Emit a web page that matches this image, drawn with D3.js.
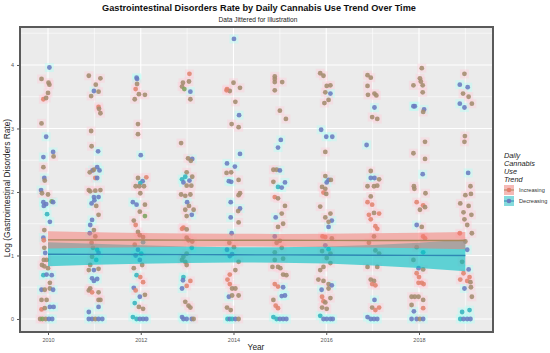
<!DOCTYPE html>
<html><head><meta charset="utf-8">
<script src="https://cdn.jsdelivr.net/npm/d3@7"></script>
<style>body{margin:0;background:#fff}svg{display:block}text{font-family:"Liberation Sans",Arial,sans-serif}</style>
</head><body>
<svg id="c" width="550" height="353"></svg>
<script>
const years = [2010,2011,2012,2013,2014,2015,2016,2017,2018,2019];
const xTickLabels = ["2010","2012","2014","2016","2018"];
const yTicks = [0,1,2,3,4];
const legendLabels = ["Increasing","Decreasing"];
// jittered points: [offset from year, log rate, colour code]
const pts2010 = [[0.03,3.96,"p"],[-0.14,3.78,"b"],[0.01,3.72,"b"],[0.03,3.69,"b"],[0.0,3.56,"b"],[-0.10,3.46,"s"],[-0.04,3.48,"b"],[-0.14,3.08,"b"],[-0.04,2.87,"p"],[-0.10,2.55,"p"],[0.11,2.63,"p"],[0.12,2.56,"b"],[-0.10,2.39,"b"],[-0.08,2.22,"p"],[-0.07,2.18,"b"],[-0.15,2.03,"p"],[-0.13,1.98,"b"],[0.0,1.96,"b"],[-0.09,1.78,"p"],[-0.04,1.81,"p"],[-0.10,1.84,"p"],[0.08,1.85,"g"],[0.11,1.84,"p"],[-0.02,1.65,"t"],[0.04,1.53,"p"],[-0.08,1.40,"b"],[-0.10,1.28,"p"],[-0.09,1.24,"s"],[-0.08,1.12,"b"],[-0.06,1.04,"p"],[-0.09,0.93,"b"],[-0.03,0.93,"b"],[-0.13,0.85,"b"],[-0.08,0.83,"b"],[0.0,0.80,"b"],[-0.10,0.69,"t"],[-0.03,0.70,"p"],[0.08,0.69,"p"],[0.04,0.57,"b"],[-0.14,0.46,"p"],[-0.07,0.46,"b"],[0.04,0.48,"b"],[0.11,0.46,"p"],[-0.14,0.30,"b"],[-0.03,0.30,"b"],[-0.14,0.15,"s"],[-0.07,0.17,"b"],[0.04,0.19,"p"],[0.12,0.19,"p"],[-0.17,0,"b"],[-0.12,0,"g"],[-0.05,0,"b"],[0.02,0,"p"],[0.09,0,"p"]];
const pts2011 = [[-0.12,3.83,"b"],[0.13,3.79,"b"],[0.03,3.69,"b"],[-0.01,3.59,"p"],[0.09,3.58,"b"],[-0.07,3.51,"b"],[0.09,3.34,"s"],[0.10,3.31,"b"],[0.13,3.24,"b"],[-0.07,2.96,"b"],[-0.06,2.72,"b"],[0.08,2.64,"p"],[0.06,2.39,"p"],[-0.04,2.34,"p"],[-0.01,2.35,"b"],[0.11,2.34,"p"],[-0.10,2.31,"b"],[0.02,2.22,"s"],[0.06,2.22,"p"],[-0.12,2.03,"b"],[-0.09,2.01,"b"],[0.02,2.02,"b"],[0.13,2.03,"b"],[-0.01,1.92,"p"],[0.09,1.92,"p"],[0.0,1.87,"p"],[-0.06,1.82,"p"],[0.04,1.78,"b"],[0.09,1.64,"b"],[-0.05,1.56,"p"],[-0.09,1.48,"p"],[-0.01,1.40,"b"],[-0.10,1.35,"p"],[0.02,1.30,"b"],[-0.06,1.20,"b"],[-0.03,1.12,"b"],[0.06,1.09,"t"],[0.09,1.04,"p"],[-0.05,0.98,"b"],[0.04,0.93,"t"],[-0.09,0.85,"b"],[-0.12,0.77,"b"],[-0.01,0.77,"p"],[0.09,0.79,"b"],[-0.05,0.64,"p"],[0.06,0.63,"p"],[-0.01,0.60,"p"],[-0.09,0.48,"b"],[-0.12,0.45,"b"],[-0.05,0.42,"s"],[0.09,0.42,"b"],[0.09,0.30,"b"],[0.13,0.30,"b"],[0.09,0.19,"p"],[-0.12,0.11,"p"],[-0.12,0,"p"],[-0.05,0,"p"],[0.02,0,"b"],[0.09,0,"p"],[0.17,0,"p"]];
const pts2012 = [[-0.09,3.80,"p"],[-0.08,3.78,"p"],[-0.08,3.70,"b"],[-0.11,3.62,"s"],[-0.04,3.54,"b"],[0.09,3.53,"b"],[-0.13,3.46,"b"],[-0.06,3.07,"b"],[-0.06,2.91,"b"],[0.0,2.58,"p"],[0.12,2.23,"s"],[0.04,2.17,"p"],[-0.06,2.22,"b"],[-0.01,2.14,"t"],[-0.11,2.09,"b"],[-0.03,2.09,"b"],[0.07,2.09,"b"],[-0.01,1.98,"b"],[-0.17,1.84,"p"],[-0.09,1.80,"p"],[0.09,1.80,"b"],[-0.02,1.69,"b"],[0.09,1.62,"g"],[-0.15,1.55,"b"],[-0.11,1.48,"s"],[-0.06,1.37,"b"],[0.05,1.29,"b"],[-0.02,1.32,"b"],[0.05,1.21,"t"],[-0.13,1.17,"b"],[-0.06,1.09,"p"],[0.01,1.03,"t"],[-0.11,1.0,"p"],[-0.02,0.93,"p"],[0.03,0.85,"b"],[-0.15,0.80,"b"],[-0.09,0.69,"t"],[-0.01,0.66,"s"],[0.05,0.58,"s"],[-0.15,0.49,"p"],[-0.11,0.45,"s"],[-0.02,0.35,"p"],[0.09,0.38,"b"],[-0.13,0.25,"t"],[-0.04,0.19,"b"],[0.05,0.16,"b"],[-0.17,0.03,"t"],[-0.09,0,"t"],[-0.02,0,"p"],[0.05,0,"p"],[0.12,0,"p"]];
const pts2013 = [[0.05,3.86,"s"],[0.04,3.74,"b"],[-0.09,3.72,"b"],[-0.11,3.66,"b"],[-0.06,3.62,"g"],[0.07,3.58,"p"],[0.07,3.46,"b"],[-0.13,2.77,"b"],[0.02,2.53,"b"],[0.11,2.52,"p"],[0.08,2.49,"b"],[-0.01,2.31,"b"],[-0.04,2.24,"t"],[0.11,2.24,"b"],[-0.11,2.20,"t"],[-0.08,2.15,"p"],[0.05,2.18,"p"],[-0.01,2.10,"b"],[0.09,2.10,"b"],[-0.13,1.96,"b"],[-0.04,1.94,"b"],[0.07,1.96,"b"],[0.0,1.84,"p"],[0.04,1.78,"b"],[-0.04,1.72,"b"],[0.14,1.72,"b"],[0.10,1.64,"p"],[-0.01,1.62,"b"],[-0.08,1.44,"s"],[-0.11,1.42,"s"],[-0.01,1.41,"b"],[-0.01,1.28,"b"],[0.03,1.24,"b"],[0.11,1.22,"b"],[0.10,1.12,"t"],[-0.01,1.03,"b"],[-0.08,0.98,"b"],[-0.11,0.93,"b"],[-0.04,0.90,"b"],[-0.01,0.85,"b"],[-0.08,0.66,"t"],[-0.09,0.61,"p"],[0.07,0.60,"s"],[-0.01,0.52,"s"],[-0.11,0.48,"p"],[-0.04,0.27,"b"],[0.03,0.21,"b"],[0.07,0.18,"b"],[-0.11,0.03,"p"],[-0.01,0,"p"],[0.10,0,"p"],[-0.08,0,"p"],[0.14,0,"b"]];
const pts2014 = [[0.01,4.41,"p"],[0.0,3.72,"b"],[-0.14,3.62,"s"],[-0.08,3.59,"b"],[-0.15,3.60,"s"],[0.14,3.64,"b"],[0.04,3.42,"b"],[0.12,3.21,"p"],[-0.04,3.07,"b"],[0.11,3.02,"b"],[0.14,2.60,"p"],[-0.14,2.45,"p"],[0.03,2.40,"p"],[-0.05,2.31,"b"],[-0.15,2.30,"b"],[-0.10,2.17,"p"],[-0.05,2.16,"p"],[0.11,2.19,"b"],[0.14,1.98,"b"],[0.11,1.95,"b"],[-0.06,1.84,"p"],[0.14,1.74,"p"],[0.10,1.70,"b"],[-0.06,1.60,"p"],[0.11,1.52,"b"],[-0.04,1.35,"p"],[-0.09,1.20,"b"],[0.01,1.13,"b"],[-0.14,1.09,"p"],[-0.03,1.02,"p"],[-0.08,0.99,"p"],[0.11,0.90,"b"],[0.04,0.77,"b"],[-0.08,0.70,"s"],[-0.13,0.62,"s"],[-0.08,0.55,"s"],[-0.03,0.48,"b"],[0.04,0.48,"b"],[-0.10,0.35,"p"],[-0.03,0.37,"b"],[0.11,0.37,"b"],[-0.14,0.18,"b"],[-0.06,0.14,"b"],[-0.13,0,"t"],[-0.08,0,"p"],[-0.03,0,"t"],[0.04,0,"p"],[0.11,0,"b"]];
const pts2015 = [[-0.11,3.82,"b"],[-0.11,3.78,"b"],[-0.11,3.73,"b"],[0.05,3.73,"b"],[-0.11,3.60,"b"],[0.0,3.28,"b"],[0.13,3.15,"b"],[0.02,2.82,"p"],[-0.04,2.70,"p"],[-0.14,2.35,"b"],[-0.07,2.35,"b"],[0.0,2.34,"p"],[-0.14,2.16,"b"],[0.11,2.15,"p"],[-0.04,2.08,"t"],[0.04,2.07,"p"],[-0.11,1.92,"s"],[-0.04,1.90,"b"],[0.11,1.78,"b"],[0.04,1.66,"b"],[-0.09,1.60,"p"],[0.07,1.50,"b"],[-0.04,1.45,"b"],[-0.11,1.30,"p"],[0.0,1.23,"b"],[-0.07,1.20,"b"],[0.04,1.12,"b"],[-0.11,1.05,"b"],[0.07,0.95,"b"],[-0.11,0.93,"b"],[-0.16,0.82,"b"],[-0.04,0.82,"b"],[0.01,0.80,"b"],[0.07,0.70,"b"],[0.14,0.69,"b"],[-0.11,0.55,"s"],[-0.04,0.51,"s"],[0.07,0.50,"p"],[0.04,0.36,"p"],[0.11,0.37,"p"],[-0.14,0.30,"b"],[-0.09,0.21,"s"],[-0.04,0.17,"s"],[-0.14,0.03,"t"],[-0.07,0,"t"],[0.0,0,"p"],[0.07,0,"p"],[0.14,0,"p"]];
const pts2016 = [[-0.13,3.87,"b"],[-0.06,3.83,"b"],[0.09,3.68,"b"],[0.01,3.67,"b"],[-0.02,3.57,"b"],[0.09,3.55,"p"],[0.05,3.45,"b"],[-0.04,3.40,"b"],[-0.11,2.98,"p"],[0.0,2.87,"p"],[0.13,2.87,"p"],[-0.02,2.63,"b"],[-0.02,2.25,"b"],[0.05,2.19,"p"],[0.10,2.19,"b"],[0.01,2.15,"p"],[-0.09,2.08,"b"],[-0.02,2.05,"b"],[-0.06,1.99,"s"],[0.0,1.97,"b"],[-0.13,1.77,"b"],[0.09,1.66,"b"],[-0.02,1.60,"b"],[0.12,1.55,"p"],[0.05,1.53,"b"],[0.05,1.45,"p"],[-0.08,1.30,"s"],[-0.02,1.29,"s"],[0.12,1.27,"b"],[-0.02,1.16,"p"],[0.05,1.10,"t"],[-0.09,1.07,"b"],[0.09,1.03,"b"],[0.01,0.96,"b"],[0.09,0.88,"b"],[-0.06,0.82,"b"],[-0.13,0.77,"b"],[-0.17,0.62,"b"],[-0.06,0.60,"b"],[0.05,0.55,"b"],[0.12,0.53,"p"],[-0.10,0.46,"p"],[0.05,0.48,"b"],[-0.09,0.35,"s"],[-0.06,0.28,"s"],[-0.02,0.26,"b"],[0.09,0.33,"b"],[-0.09,0.18,"b"],[0.01,0.16,"b"],[-0.13,0.05,"t"],[-0.06,0,"p"],[0.01,0,"p"],[0.09,0,"p"],[0.14,0,"p"]];
const pts2017 = [[-0.11,3.84,"b"],[-0.04,3.80,"b"],[-0.11,3.67,"b"],[-0.10,3.53,"b"],[0.04,3.55,"b"],[0.08,3.52,"b"],[0.04,3.33,"p"],[-0.01,3.18,"b"],[0.10,3.15,"b"],[-0.13,2.74,"p"],[-0.04,2.33,"b"],[-0.04,2.22,"p"],[0.04,2.22,"p"],[0.14,2.20,"b"],[-0.11,2.09,"b"],[0.03,2.09,"b"],[0.10,2.10,"b"],[-0.04,1.93,"b"],[-0.11,1.84,"s"],[-0.01,1.80,"s"],[0.03,1.67,"b"],[-0.08,1.64,"s"],[0.14,1.66,"s"],[-0.04,1.57,"s"],[0.06,1.46,"s"],[0.10,1.42,"s"],[0.03,1.30,"b"],[-0.08,1.20,"b"],[0.06,1.08,"b"],[0.14,1.03,"b"],[-0.11,0.82,"b"],[0.10,0.82,"b"],[-0.04,0.62,"b"],[0.03,0.60,"b"],[-0.01,0.55,"s"],[0.06,0.53,"s"],[0.04,0.30,"p"],[-0.01,0.18,"b"],[0.14,0.18,"s"],[0.06,0.14,"s"],[-0.11,0.03,"p"],[-0.04,0,"p"],[0.03,0,"p"],[0.10,0,"p"]];
const pts2018 = [[0.06,3.95,"b"],[0.02,3.79,"b"],[0.04,3.74,"b"],[-0.12,3.68,"b"],[0.08,3.68,"b"],[0.08,3.57,"b"],[-0.09,3.35,"p"],[-0.12,3.35,"p"],[0.11,3.30,"p"],[0.09,3.26,"b"],[0.13,2.79,"b"],[-0.12,2.61,"b"],[0.13,2.52,"b"],[0.08,2.28,"p"],[-0.11,2.09,"b"],[-0.10,2.05,"b"],[0.14,1.98,"b"],[-0.05,1.84,"s"],[0.09,1.79,"s"],[0.02,1.72,"b"],[0.13,1.76,"b"],[-0.05,1.48,"p"],[0.06,1.45,"b"],[0.09,1.30,"s"],[0.13,1.27,"s"],[-0.05,1.13,"b"],[0.09,1.05,"t"],[-0.12,0.93,"b"],[-0.01,0.80,"p"],[0.09,0.78,"b"],[-0.05,0.72,"s"],[0.0,0.66,"s"],[0.06,0.57,"s"],[-0.01,0.57,"s"],[0.10,0.55,"s"],[-0.16,0.35,"b"],[-0.09,0.35,"b"],[-0.01,0.35,"b"],[0.09,0.30,"b"],[-0.16,0.22,"b"],[0.09,0.17,"s"],[-0.11,0.12,"p"],[-0.16,0,"p"],[-0.05,0,"p"],[0.02,0,"b"],[0.09,0,"p"]];
const pts2019 = [[-0.02,3.86,"b"],[-0.12,3.69,"p"],[0.05,3.65,"p"],[-0.05,3.55,"b"],[0.07,3.50,"b"],[-0.12,3.39,"p"],[-0.02,3.33,"p"],[0.14,3.39,"b"],[-0.01,2.88,"b"],[-0.02,2.79,"b"],[0.06,2.30,"p"],[0.11,2.09,"b"],[0.0,1.95,"b"],[0.12,1.97,"b"],[-0.11,1.82,"b"],[0.07,1.78,"b"],[-0.04,1.68,"b"],[0.13,1.64,"b"],[-0.02,1.57,"b"],[0.04,1.48,"b"],[-0.12,1.35,"s"],[0.14,1.35,"b"],[0.0,1.22,"b"],[0.04,1.09,"p"],[-0.07,0.90,"b"],[0.07,0.78,"p"],[-0.04,0.72,"s"],[0.09,0.66,"s"],[-0.11,0.62,"s"],[0.04,0.60,"s"],[0.11,0.58,"b"],[-0.02,0.48,"p"],[0.12,0.50,"b"],[0.14,0.35,"b"],[0.09,0.14,"t"],[-0.07,0.11,"t"],[-0.11,0,"t"],[-0.04,0,"p"],[0.04,0,"p"],[0.11,0,"p"]];
const pointsByYear = [pts2010,pts2011,pts2012,pts2013,pts2014,pts2015,pts2016,pts2017,pts2018,pts2019];
// linear trend fits with confidence bands, per year
const incFit = [1.245,1.244,1.243,1.242,1.241,1.239,1.238,1.237,1.236,1.235];
const incLo  = [1.11,1.122,1.131,1.138,1.14,1.139,1.134,1.125,1.114,1.10];
const incHi  = [1.38,1.366,1.355,1.346,1.342,1.34,1.342,1.349,1.358,1.37];
const decFit = [1.020,1.018,1.016,1.013,1.011,1.009,1.007,1.004,1.002,1.000];
const decLo  = [0.83,0.853,0.871,0.883,0.891,0.887,0.872,0.844,0.802,0.75];
const decHi  = [1.21,1.183,1.161,1.143,1.131,1.131,1.142,1.164,1.202,1.25];

const svg = d3.select("#c");
const P = {l:20, t:27, r:493, b:332};
const x = d3.scaleLinear().domain([2009.396, 2019.596]).range([P.l, P.r]);
const y = d3.scaleLinear().domain([-0.205, 4.598]).range([P.b, P.t]);
const colorOf = {b:"#A38C6E", p:"#6B7CC0", s:"#E0846F", t:"#35B4BE", g:"#7CA35E"};
const isInc = c => c==="b"||c==="s"||c==="g";

// panel
svg.append("rect").attr("x",P.l).attr("y",P.t).attr("width",P.r-P.l).attr("height",P.b-P.t).attr("fill","#EBEBEB");
const grid = svg.append("g");
d3.range(0, 4.6, 0.5).forEach(v=>{
  grid.append("line").attr("x1",P.l).attr("x2",P.r).attr("y1",y(v)).attr("y2",y(v))
    .attr("stroke","#fff").attr("stroke-width", v%1===0?1.1:0.6);
});
years.forEach(yr=>{
  grid.append("line").attr("y1",P.t).attr("y2",P.b).attr("x1",x(yr)).attr("x2",x(yr))
    .attr("stroke","#fff").attr("stroke-width", yr%2===0?1.1:0.6);
});

// flattened points
const pts = [];
pointsByYear.forEach((arr,i)=>arr.forEach(d=>pts.push({x:years[i]+d[0], v:d[1], c:d[2]})));

// halos
svg.append("g").selectAll("rect").data(pts).join("rect")
  .attr("x",d=>x(d.x)-4.5).attr("y",d=>y(d.v)-4.5).attr("width",9).attr("height",9)
  .attr("fill",d=>isInc(d.c)?"#FFCCDA":"#B0FFF6").attr("opacity",0.42);
// points
svg.append("g").selectAll("circle").data(pts).join("circle")
  .attr("cx",d=>x(d.x)).attr("cy",d=>y(d.v)).attr("r",2.4)
  .attr("fill",d=>colorOf[d.c]).attr("opacity",0.88);

// ribbons
const area = (lo,hi)=>d3.area().x((d,i)=>x(years[i])).y0((d,i)=>y(lo[i])).y1((d,i)=>y(hi[i]))(years);
svg.append("path").attr("d",area(decLo,decHi)).attr("fill","#00BFC4").attr("opacity",0.6);
svg.append("path").attr("d",area(incLo,incHi)).attr("fill","#F8766D").attr("opacity",0.5);
const line = f=>d3.line().x((d,i)=>x(years[i])).y((d,i)=>y(f[i]))(years);
svg.append("path").attr("d",line(incFit)).attr("fill","none").attr("stroke","#A8875C").attr("stroke-width",1.4);
svg.append("path").attr("d",line(decFit)).attr("fill","none").attr("stroke","#2F88B4").attr("stroke-width",1.4);

// frame
svg.append("rect").attr("x",P.l).attr("y",P.t).attr("width",P.r-P.l).attr("height",P.b-P.t)
  .attr("fill","none").attr("stroke","#5A5A5A").attr("stroke-width",2);

// axes
const yAxis = d3.axisLeft(y).tickValues(yTicks).tickSize(2).tickPadding(3).tickFormat(d3.format("d"));
const gy = svg.append("g").attr("transform",`translate(${P.l-1},0)`).call(yAxis);
gy.select(".domain").remove();
gy.selectAll("line").attr("stroke","#555");
gy.selectAll("text").attr("font-size",5.5).attr("fill","#555");
const xAxis = d3.axisBottom(x).tickValues(xTickLabels.map(Number)).tickSize(2).tickPadding(3).tickFormat(d3.format("d"));
const gx = svg.append("g").attr("transform",`translate(0,${P.b+1})`).call(xAxis);
gx.select(".domain").remove();
gx.selectAll("line").attr("stroke","#555");
gx.selectAll("text").attr("font-size",5.5).attr("fill","#555");

// titles
svg.append("text").attr("x",259).attr("y",11).attr("text-anchor","middle").attr("font-weight","bold").attr("font-size",9.2).attr("fill","#111")
  .text("Gastrointestinal Disorders Rate by Daily Cannabis Use Trend Over Time");
svg.append("text").attr("x",258).attr("y",22).attr("text-anchor","middle").attr("font-size",6.6).attr("fill","#222")
  .text("Data Jittered for Illustration");
svg.append("text").attr("x",256).attr("y",350).attr("text-anchor","middle").attr("font-size",8.3).attr("fill","#222").text("Year");
svg.append("text").attr("transform","translate(10,188) rotate(-90)").attr("text-anchor","middle").attr("font-size",8.4).attr("fill","#222")
  .text("Log (Gastrointestinal Disorders Rate)");

// legend
const lg = svg.append("g").attr("transform","translate(504,0)");
["Daily","Cannabis","Use","Trend"].forEach((t,i)=>{
  lg.append("text").attr("x",0).attr("y",158+i*8).attr("font-size",7.3).attr("font-style","italic").attr("fill","#222").text(t);
});
const keyFill = ["#F8766D","#00BFC4"], keyLine=["#A8875C","#2F88B4"], keyDot=["#E3806E","#6B7CC0"];
legendLabels.forEach((t,i)=>{
  const ky = 185 + i*11;
  lg.append("rect").attr("x",0).attr("y",ky).attr("width",10).attr("height",10).attr("fill","#F2F2F2");
  lg.append("rect").attr("x",0).attr("y",ky).attr("width",10).attr("height",10).attr("fill",keyFill[i]).attr("opacity",0.45);
  lg.append("line").attr("x1",0).attr("x2",10).attr("y1",ky+5).attr("y2",ky+5).attr("stroke",keyLine[i]).attr("stroke-width",1);
  lg.append("circle").attr("cx",5).attr("cy",ky+5).attr("r",2.3).attr("fill",keyDot[i]);
  lg.append("text").attr("x",15).attr("y",ky+7).attr("font-size",5.6).attr("fill","#333").text(t);
});
</script>
</body></html>
